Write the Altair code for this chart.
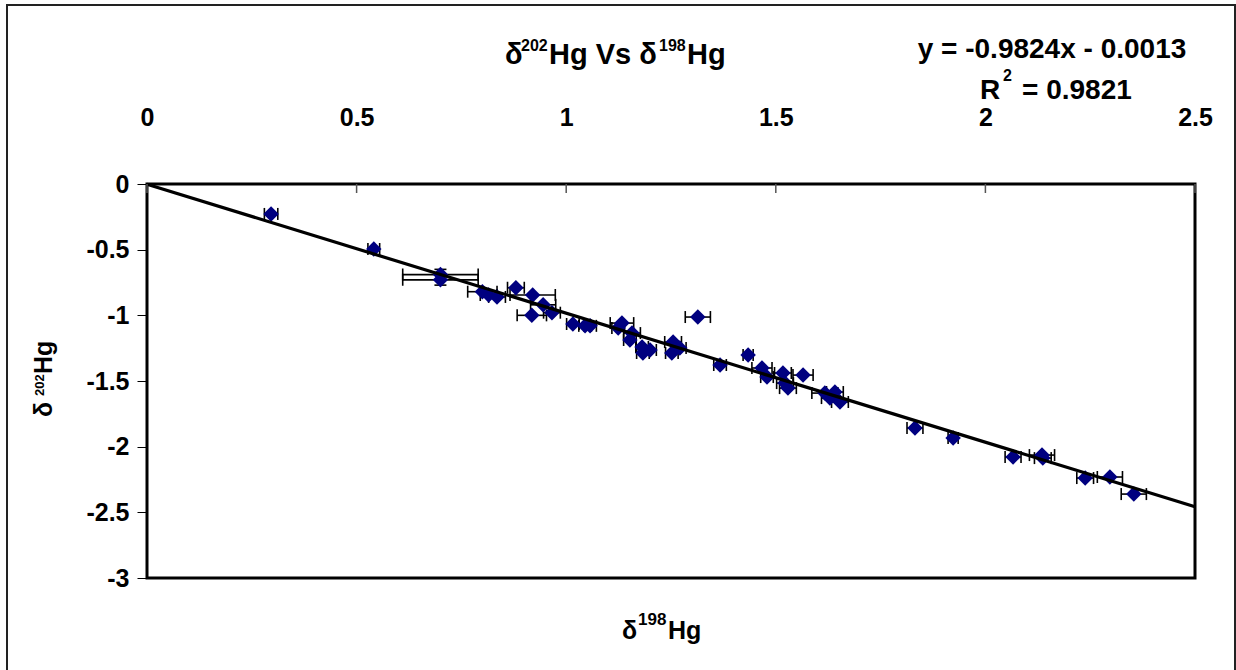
import altair as alt
import pandas as pd

FONT = "Liberation Sans"

# ---- data ----
x_vals = [0.296, 0.541, 0.700, 0.700, 0.800, 0.815, 0.835, 0.880, 0.920, 0.945,
          0.966, 0.918, 1.016, 1.045, 1.057, 1.133, 1.124, 1.157, 1.152, 1.181,
          1.183, 1.200, 1.255, 1.252, 1.271, 1.314, 1.367, 1.434, 1.467, 1.479,
          1.517, 1.529, 1.522, 1.565, 1.617, 1.641, 1.653, 1.629, 1.832, 1.923,
          2.066, 2.135, 2.137, 2.238, 2.297, 2.354]
y_vals = [-0.228, -0.495, -0.690, -0.730, -0.820, -0.845, -0.860, -0.790, -0.845, -0.920,
          -0.980, -1.000, -1.066, -1.080, -1.080, -1.059, -1.097, -1.135, -1.188, -1.241,
          -1.287, -1.264, -1.203, -1.287, -1.249, -1.013, -1.378, -1.302, -1.401, -1.470,
          -1.439, -1.554, -1.516, -1.455, -1.592, -1.584, -1.660, -1.630, -1.858, -1.934,
          -2.079, -2.064, -2.087, -2.239, -2.231, -2.361]
x_err = [0.016, 0.014, 0.090, 0.090, 0.035, 0.020, 0.020, 0.020, 0.054, 0.030,
         0.020, 0.035, 0.015, 0.015, 0.015, 0.028, 0.015, 0.020, 0.015, 0.015,
         0.015, 0.015, 0.020, 0.015, 0.015, 0.030, 0.015, 0.012, 0.024, 0.015,
         0.020, 0.020, 0.020, 0.024, 0.031, 0.020, 0.020, 0.020, 0.019, 0.012,
         0.019, 0.030, 0.020, 0.020, 0.030, 0.030]
y_err = [0, 0, 0.04, 0.04, 0, 0, 0, 0, 0, 0,
         0, 0, 0, 0, 0, 0, 0, 0, 0, 0,
         0, 0, 0, 0, 0, 0, 0, 0, 0, 0,
         0, 0, 0, 0, 0, 0, 0, 0, 0, 0,
         0, 0, 0, 0, 0, 0]

slope = -0.9824
intercept = -0.0013
trend_x = [0, 2.5]

x_ticks = [0, 0.5, 1, 1.5, 2, 2.5]
y_ticks = [0, -0.5, -1, -1.5, -2, -2.5, -3]

# ---- tables ----
df = pd.DataFrame({"x": x_vals, "y": y_vals, "xerr": x_err, "yerr": y_err})
df["xlo"] = df["x"] - df["xerr"]
df["xhi"] = df["x"] + df["xerr"]
df["ylo"] = df["y"] - df["yerr"]
df["yhi"] = df["y"] + df["yerr"]

trend = pd.DataFrame({"x": trend_x})
trend["y"] = slope * trend["x"] + intercept

xt = pd.DataFrame({"t": x_ticks})
one = pd.DataFrame({"a": [0]})

W, H = 1048, 394
L, T = 147, 184

xscale = alt.Scale(domain=[0, 2.5], nice=False, zero=False)
yscale = alt.Scale(domain=[-3, 0], nice=False, zero=False)

x_axis = alt.Axis(orient="top", values=x_ticks, format="~g", ticks=False, domain=False,
                  grid=False, labelFont=FONT, labelFontSize=25, labelFontWeight="bold",
                  labelColor="black", labelPadding=59, labelBaseline="alphabetic",
                  labelFlush=False, labelOverlap=False, title="")
y_axis = alt.Axis(orient="left", values=y_ticks, ticks=True, tickSize=10, tickColor="black",
                  tickWidth=1, domain=False, grid=False, labelFont=FONT, labelFontSize=25,
                  labelFontWeight="bold", labelColor="black", labelPadding=8,
                  labelExpr="replace(format(datum.value, '~g'), '\u2212', '-')",
                  labelFlush=False, labelOverlap=False, title="")


def X(field):
    return alt.X(field, type="quantitative", scale=xscale, axis=x_axis)


def Y(field):
    return alt.Y(field, type="quantitative", scale=yscale, axis=y_axis)


base = alt.Chart(df)

xbars = base.mark_rule(color="black", strokeWidth=1.6).encode(
    x=X("xlo"), x2="xhi:Q", y=Y("y"))
xcap_lo = base.mark_tick(orient="vertical", color="black", size=12, thickness=1.6, opacity=1).encode(
    x=X("xlo"), y=Y("y"))
xcap_hi = base.mark_tick(orient="vertical", color="black", size=12, thickness=1.6, opacity=1).encode(
    x=X("xhi"), y=Y("y"))

ybase = base.transform_filter("datum.yerr > 0")
ybars = ybase.mark_rule(color="black", strokeWidth=1.6).encode(
    x=X("x"), y=Y("ylo"), y2="yhi:Q")
ycap_lo = ybase.mark_tick(orient="horizontal", color="black", size=12, thickness=1.6, opacity=1).encode(
    x=X("x"), y=Y("ylo"))
ycap_hi = ybase.mark_tick(orient="horizontal", color="black", size=12, thickness=1.6, opacity=1).encode(
    x=X("x"), y=Y("yhi"))

points = base.mark_point(shape="diamond", filled=True, size=240, color="#000080", opacity=1).encode(
    x=X("x"), y=Y("y"))

trend_line = alt.Chart(trend).mark_line(color="black", strokeWidth=3.2).encode(
    x=X("x"), y=Y("y"))

inner_ticks = alt.Chart(xt).mark_rule(color="#555", strokeWidth=1.5).encode(
    x=X("t"), y=alt.value(0), y2=alt.value(9))

outer = alt.Chart(one).mark_rect(fillOpacity=0, stroke="#222", strokeWidth=2).encode(
    x=alt.value(7 - L), x2=alt.value(1235 - L), y=alt.value(5 - T), y2=alt.value(700 - T))


def txt(s, x, y, size, align="left", angle=0):
    return alt.Chart(one).mark_text(
        text=s, align=align, baseline="alphabetic", font=FONT, fontSize=size,
        fontWeight="bold", color="black", angle=angle
    ).encode(x=alt.value(x - L), y=alt.value(y - T))


texts = [
    # title  δ202Hg Vs δ198Hg
    txt("\u03b4", 505, 64, 29),
    txt("202", 521, 51, 16),
    txt("Hg Vs \u03b4", 549, 64, 29),
    txt("198", 659, 51, 16),
    txt("Hg", 687, 64, 29),
    # equation
    txt("y = -0.9824x - 0.0013", 1052, 58, 28, align="center"),
    txt("R", 980, 99, 28),
    txt("2", 1003, 81, 16),
    txt("= 0.9821", 1022, 99, 28),
    # x axis title δ198Hg
    txt("\u03b4", 622, 639, 25),
    txt("198", 638, 625, 17),
    txt("Hg", 668, 639, 25),
    # y axis title δ202Hg (rotated)
    txt("\u03b4", 52, 417, 25, angle=270),
    txt("202", 44, 396, 13, angle=270),
    txt("Hg", 52, 374, 25, angle=270),
]

chart = alt.layer(
    xbars, xcap_lo, xcap_hi, ybars, ycap_lo, ycap_hi, points, trend_line, inner_ticks,
    outer, *texts
).properties(
    width=W, height=H,
    padding={"left": L, "top": T, "right": 1236 - L - W, "bottom": 670 - T - H},
    autosize="none", background="white"
).configure_view(stroke="black", strokeWidth=3)

chart.save("out.html", embed_options={"renderer": "svg", "actions": False})
